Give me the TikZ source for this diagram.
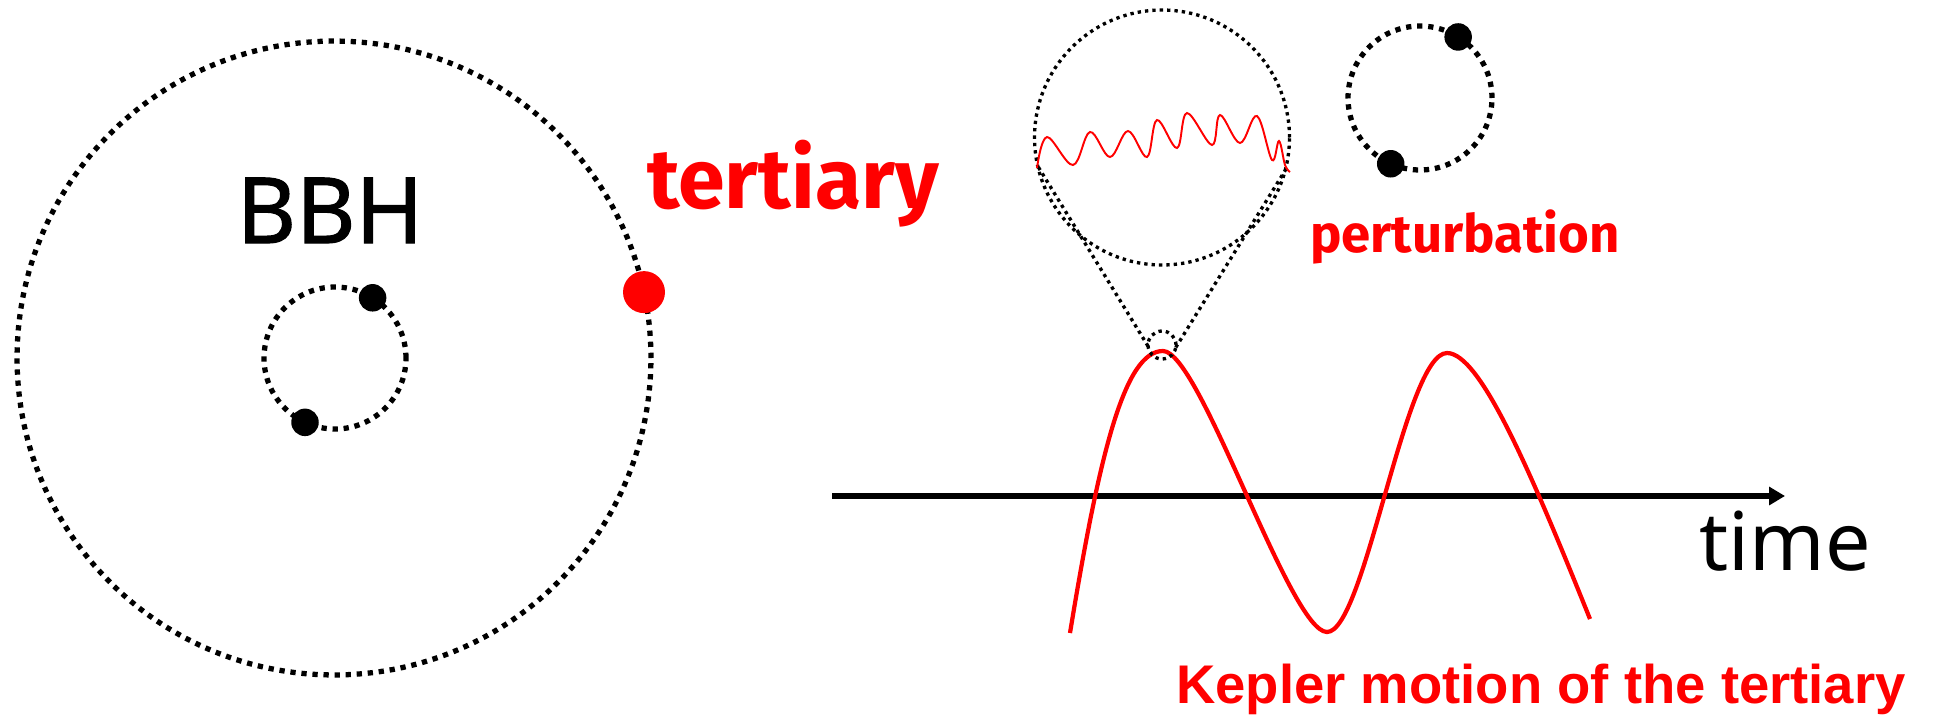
\documentclass[tikz,border=0pt]{standalone}
\usepackage{fontspec}
\setmainfont{Noto Sans}
\newfontfamily\bbhfont{Noto Sans}[FakeBold=1.2]
\newfontfamily\labelfont{Fira Sans}
\newfontfamily\arialfont{Liberation Sans}
\usetikzlibrary{arrows.meta,positioning}

\begin{document}
\begin{tikzpicture}[x=0.02cm, y=-0.02cm,
  orbit/.style={circle, draw, line width=3pt, dash pattern=on 3pt off 3.3pt, inner sep=0pt, outer sep=0pt},
  lensline/.style={line width=1.9pt, dash pattern=on 1.9pt off 2.3pt},
  hole/.style={circle, fill=black, minimum size=0.55cm, inner sep=0pt},
  redlabel/.style={text=red, font=\labelfont\bfseries\fontsize{48}{48}\selectfont}]
  \useasboundingbox (0,0) rectangle (1934,714);

  % left: the BBH and the tertiary on its outer orbit
  \node[orbit, minimum size=12.68cm] (outer) at (334,358) {};
  \node[orbit, minimum size=2.84cm] (inner) at (335,358) {};
  \node[hole] (bh1) at (inner.58) {};
  \node[hole] (bh2) at (inner.245) {};
  \node[circle, fill=red, minimum size=0.84cm, inner sep=0pt] (tert) at (outer.12) {};
  \node[font=\bbhfont\fontsize{52}{52}\selectfont, anchor=base] (bbhlabel) at (330,243) {BBH};
  \node[redlabel, anchor=base] (tertlabel) at (793,208) {tertiary};

  % right: Kepler motion against time
  \coordinate (t0) at (832,496);
  \coordinate (t1) at (1785,496);
  \draw[line width=3pt, -{Triangle[length=9pt,width=10pt]}] (t0) -- (t1);
  \node[font=\fontsize{46}{46}\selectfont, anchor=base] (timelabel) at (1785,570) {time};
  \draw[red, line width=2.4pt] (1070,633) .. controls (1100,450) and (1125,351) .. (1163,351)
    .. controls (1200,351) and (1290,632) .. (1327,632)
    .. controls (1365,632) and (1405,353) .. (1447,353)
    .. controls (1480,353) and (1530,470) .. (1590,619);
  \node[text=red, font=\arialfont\bfseries\fontsize{31}{31}\selectfont, anchor=base] (keplerlabel) at (1541,703) {Kepler motion of the tertiary};

  % zoom on the peak
  \node[circle, draw, lensline, minimum size=0.56cm, inner sep=0pt, outer sep=0pt] (spot) at (1162,345) {};
  \node[circle, draw, lensline, minimum size=5.1cm, inner sep=0pt, outer sep=0pt] (lens) at (1162,137.5) {};
  \draw[lensline] (spot.185) -- (lens.193);
  \draw[lensline] (spot.350) -- (lens.345);
  \draw[red, line width=1.1pt] plot[smooth, tension=0.6] coordinates {
    (1037,168) (1047,137) (1073,165) (1090,132) (1110,157) (1128,131) (1147,157)
    (1157,120) (1177,148) (1187,113) (1212,145) (1220,115) (1240,143) (1257,116)
    (1272,160) (1279,141) (1285,165) (1290,172)};

  % inner binary, top right
  \node[orbit, minimum size=2.88cm] (binary) at (1420,98) {};
  \node[hole] (bh3) at (binary.58) {};
  \node[hole] (bh4) at (binary.246) {};
  \node[redlabel, font=\labelfont\bfseries\fontsize{30}{30}\selectfont, anchor=base] (pertlabel) at (1465,252) {perturbation};
\end{tikzpicture}
\end{document}
